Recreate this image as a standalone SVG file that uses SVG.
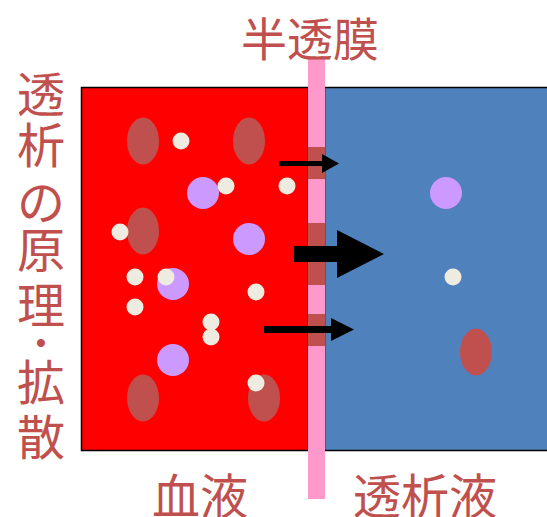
<svg xmlns="http://www.w3.org/2000/svg" width="547" height="517" viewBox="0 0 547 517">
  <style>
    .label { font-family: "Noto Sans CJK JP", "Noto Sans CJK SC", sans-serif; fill: #C0504D; text-anchor: middle; }
    .box { stroke: #000; stroke-width: 1.5; }
    .rbc { fill: #C0504D; }
    .big { fill: #CC99FF; }
    .small { fill: #EEECE1; }
    .pore { fill: #C0504D; }
    .arrow { fill: #000; }
  </style>
  <rect width="547" height="517" fill="#fff"/>

  <!-- blood compartment -->
  <g id="blood">
    <rect class="box" x="81.5" y="87.5" width="227" height="363" fill="#FF0000"/>
    <ellipse class="rbc" cx="143" cy="141" rx="16" ry="23.5"/>
    <ellipse class="rbc" cx="249" cy="141" rx="16" ry="23.5"/>
    <ellipse class="rbc" cx="143" cy="231" rx="16" ry="23.5"/>
    <ellipse class="rbc" cx="143" cy="398" rx="16" ry="23.5"/>
    <ellipse class="rbc" cx="264" cy="398" rx="16" ry="23.5"/>
    <circle class="big" cx="203" cy="193" r="16"/>
    <circle class="big" cx="249" cy="239" r="16"/>
    <circle class="big" cx="173" cy="284" r="16"/>
    <circle class="big" cx="173" cy="360" r="16"/>
    <circle class="small" cx="181" cy="141" r="8.5"/>
    <circle class="small" cx="226" cy="186" r="8.5"/>
    <circle class="small" cx="287" cy="186" r="8.5"/>
    <circle class="small" cx="120" cy="232" r="8.5"/>
    <circle class="small" cx="135" cy="277" r="8.5"/>
    <circle class="small" cx="166" cy="277" r="8.5"/>
    <circle class="small" cx="256" cy="292" r="8.5"/>
    <circle class="small" cx="135" cy="307" r="8.5"/>
    <circle class="small" cx="211" cy="322" r="8.5"/>
    <circle class="small" cx="211" cy="337" r="8.5"/>
    <circle class="small" cx="256" cy="383" r="8.5"/>
  </g>

  <!-- dialysate compartment -->
  <g id="dialysate">
    <rect class="box" x="324.5" y="87.5" width="230" height="363" fill="#4F81BD"/>
    <circle class="big" cx="446" cy="193" r="16"/>
    <circle class="small" cx="453" cy="277" r="8.5"/>
    <ellipse class="rbc" cx="476" cy="352" rx="16" ry="23.5"/>
  </g>

  <!-- semipermeable membrane with pores -->
  <g id="membrane">
    <rect x="308" y="59" width="17" height="440" fill="#FF99CC"/>
    <rect class="pore" x="308" y="147" width="17" height="32"/>
    <rect class="pore" x="308" y="223" width="17" height="62"/>
    <rect class="pore" x="308" y="314" width="17" height="32"/>
  </g>

  <!-- diffusion arrows -->
  <g id="connectors">
    <polygon class="arrow" points="279,161 322,161 322,154 339,163.5 322,173 322,166 279,166"/>
    <polygon class="arrow" points="294,246 337,246 337,230 384,254 337,278 337,262 294,262"/>
    <polygon class="arrow" points="264,326 331,326 331,318 354,329.5 331,341 331,333 264,333"/>
  </g>

  <!-- labels -->
  <g id="labels">
    <text class="label" x="310" y="56" font-size="46">半透膜</text>
    <text class="label" x="200" y="514" font-size="48">血液</text>
    <text class="label" x="425" y="514" font-size="48">透析液</text>
    <text class="label" x="41" y="112" font-size="48">透</text>
    <text class="label" x="41" y="163" font-size="48">析</text>
    <text class="label" x="41" y="220" font-size="48">の</text>
    <text class="label" x="41" y="268" font-size="48">原</text>
    <text class="label" x="41" y="323" font-size="48">理</text>
    <text class="label" x="41" y="361" font-size="48">･</text>
    <text class="label" x="41" y="400" font-size="48">拡</text>
    <text class="label" x="41" y="455" font-size="48">散</text>
  </g>
</svg>
